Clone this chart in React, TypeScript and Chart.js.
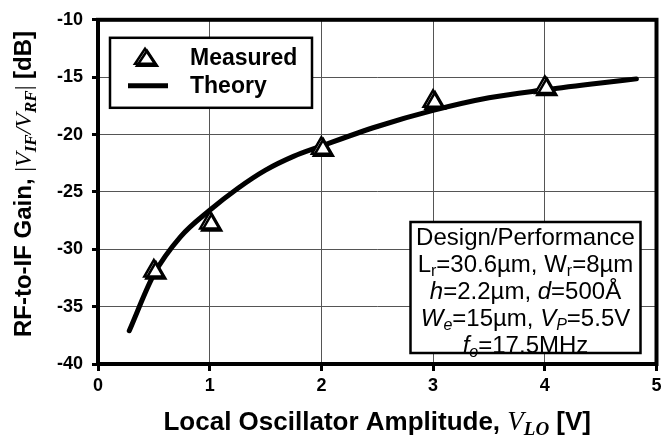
import React, { useEffect, useRef } from "react";
import { Chart, registerables } from "chart.js";

Chart.register(...registerables);

// Measured conversion gain vs. LO amplitude
const measuredVlo = [0.5, 1, 2, 3, 4];
const measuredGain = [-31.9, -27.7, -21.2, -17.1, -15.9];

// Theoretical curve
const theoryVlo = [0.28, 0.5, 0.74, 1, 1.25, 1.5, 1.75, 2, 2.5, 3, 3.5, 4, 4.5, 4.82];
const theoryGain = [-37.1, -32.2, -28.9, -26.6, -24.7, -23.1, -21.9, -21.0, -19.3, -17.9, -16.8, -16.1, -15.5, -15.15];

const xTickValues = [0, 1, 2, 3, 4, 5];
const yTickValues = [-40, -35, -30, -25, -20, -15, -10];

const SANS = '"Liberation Sans", Arial, Helvetica, sans-serif';
const SERIF = '"Liberation Serif", "Times New Roman", serif';

type Run = { text: string; font: string; dy?: number };

function runsWidth(ctx: CanvasRenderingContext2D, runs: Run[]) {
  let w = 0;
  for (const r of runs) {
    ctx.font = r.font;
    w += ctx.measureText(r.text).width;
  }
  return w;
}

// Draws a line of mixed-font text centred on x, baseline at y
function drawRuns(ctx: CanvasRenderingContext2D, runs: Run[], x: number, y: number) {
  const total = runsWidth(ctx, runs);
  let cx = x - total / 2;
  ctx.textAlign = "left";
  ctx.textBaseline = "alphabetic";
  for (const r of runs) {
    ctx.font = r.font;
    ctx.fillText(r.text, cx, y + (r.dy || 0));
    cx += ctx.measureText(r.text).width;
  }
}

function drawTriangle(ctx: CanvasRenderingContext2D, x: number, y: number, r: number) {
  const h = r * 1.5;
  const half = r * Math.sqrt(3) / 2;
  ctx.save();
  ctx.shadowColor = "#000";
  ctx.shadowOffsetX = 2;
  ctx.shadowOffsetY = 2;
  ctx.shadowBlur = 0;
  ctx.beginPath();
  ctx.moveTo(x, y - r);
  ctx.lineTo(x + half * 1.15, y + h - r);
  ctx.lineTo(x - half * 1.15, y + h - r);
  ctx.closePath();
  ctx.fillStyle = "#fff";
  ctx.fill();
  ctx.lineWidth = 2.5;
  ctx.strokeStyle = "#000";
  ctx.stroke();
  ctx.restore();
}

const framePlugin = {
  id: "frameAndNotes",
  beforeDatasetsDraw(chart: any) {
    const { ctx, chartArea: a } = chart;
    ctx.save();
    ctx.lineWidth = 4;
    ctx.strokeStyle = "#000";
    ctx.strokeRect(a.left, a.top, a.right - a.left, a.bottom - a.top);
    ctx.restore();
  },
  beforeDatasetDraw(chart: any, args: any) {
    if (args.index === 0) {
      const ctx = chart.ctx;
      ctx.save();
      ctx.shadowColor = "#000";
      ctx.shadowOffsetX = 2;
      ctx.shadowOffsetY = 2;
      ctx.shadowBlur = 0;
    }
  },
  afterDatasetDraw(chart: any, args: any) {
    if (args.index === 0) chart.ctx.restore();
  },
  afterDraw(chart: any) {
    const { ctx, chartArea: a } = chart;
    ctx.save();
    ctx.fillStyle = "#000";

    // Legend box
    const lx = a.left + 12, ly = a.top + 18, lw = 202, lh = 70;
    ctx.fillStyle = "#fff";
    ctx.fillRect(lx, ly, lw, lh);
    ctx.lineWidth = 2.5;
    ctx.strokeStyle = "#000";
    ctx.strokeRect(lx, ly, lw, lh);
    drawTriangle(ctx, lx + 35, ly + 21, 10);
    ctx.beginPath();
    ctx.lineWidth = 5;
    ctx.moveTo(lx + 18, ly + 48);
    ctx.lineTo(lx + 58, ly + 48);
    ctx.stroke();
    ctx.fillStyle = "#000";
    ctx.font = `bold 23px ${SANS}`;
    ctx.textAlign = "left";
    ctx.textBaseline = "middle";
    ctx.fillText(chart.data.datasets[0].label, lx + 80, ly + 21);
    ctx.fillText(chart.data.datasets[1].label, lx + 80, ly + 49);

    // Design/Performance box
    const bw = 230, bh = 131;
    const bx = a.right - 16 - bw, by = a.bottom - 11 - bh;
    ctx.fillStyle = "#fff";
    ctx.fillRect(bx, by, bw, bh);
    ctx.lineWidth = 2.5;
    ctx.strokeRect(bx, by, bw, bh);
    ctx.fillStyle = "#000";
    const fs = 24, ss = 16;
    const R = `${fs}px ${SANS}`;
    const I = `italic ${fs}px ${SANS}`;
    const RS = `${ss}px ${SANS}`;
    const IS = `italic ${ss}px ${SANS}`;
    const cx = bx + bw / 2;
    const lines: Run[][] = [
      [{ text: "Design/Performance", font: R }],
      [
        { text: "L", font: R }, { text: "r", font: RS, dy: 4 },
        { text: "=30.6\u00b5m, W", font: R }, { text: "r", font: RS, dy: 4 },
        { text: "=8\u00b5m", font: R },
      ],
      [
        { text: "h", font: I }, { text: "=2.2\u00b5m, ", font: R },
        { text: "d", font: I }, { text: "=500\u00c5", font: R },
      ],
      [
        { text: "W", font: I }, { text: "e", font: IS, dy: 4 },
        { text: "=15\u00b5m, ", font: R },
        { text: "V", font: I }, { text: "P", font: IS, dy: 4 },
        { text: "=5.5V", font: R },
      ],
      [
        { text: "f", font: I }, { text: "o", font: IS, dy: 4 },
        { text: "=17.5MHz", font: R },
      ],
    ];
    lines.forEach((ln, i) => drawRuns(ctx, ln, cx, by + 23 + i * 27));

    // Axis titles
    const xTitle: Run[] = [
      { text: "Local Oscillator Amplitude, ", font: `bold 26px ${SANS}` },
      { text: "V", font: `italic 27px ${SERIF}` },
      { text: "LO", font: `italic bold 19px ${SERIF}`, dy: 5 },
      { text: " [V]", font: `bold 26px ${SANS}` },
    ];
    drawRuns(ctx, xTitle, (a.left + a.right) / 2, 430);

    const yTitle: Run[] = [
      { text: "RF-to-IF Gain, ", font: `bold 24px ${SANS}` },
      { text: "|", font: `24px ${SERIF}` },
      { text: "V", font: `italic 24px ${SERIF}` },
      { text: "IF", font: `italic bold 17px ${SERIF}`, dy: 5 },
      { text: "/", font: `italic 24px ${SERIF}` },
      { text: "V", font: `italic 24px ${SERIF}` },
      { text: "RF", font: `italic bold 17px ${SERIF}`, dy: 5 },
      { text: "|", font: `24px ${SERIF}` },
      { text: " [dB]", font: `bold 24px ${SANS}` },
    ];
    ctx.save();
    ctx.translate(31, 184);
    ctx.rotate(-Math.PI / 2);
    drawRuns(ctx, yTitle, 0, 0);
    ctx.restore();

    ctx.restore();
  },
};

export default function App() {
  const canvasRef = useRef<HTMLCanvasElement | null>(null);

  useEffect(() => {
    const canvas = canvasRef.current;
    if (!canvas) return;
    const chart = new Chart(canvas, {
      type: "scatter",
      data: {
        datasets: [
          {
            label: "Measured",
            data: measuredVlo.map((x, i) => ({ x, y: measuredGain[i] })),
            pointStyle: "triangle",
            pointRadius: 11,
            pointHoverRadius: 11,
            pointBackgroundColor: "#fff",
            pointBorderColor: "#000",
            pointBorderWidth: 2.5,
            showLine: false,
            order: 0,
          },
          {
            label: "Theory",
            data: theoryVlo.map((x, i) => ({ x, y: theoryGain[i] })),
            showLine: true,
            borderColor: "#000",
            borderWidth: 5,
            pointRadius: 0,
            cubicInterpolationMode: "monotone",
            borderCapStyle: "round",
            order: 1,
          },
        ],
      },
      options: {
        responsive: false,
        animation: false,
        events: [],
        layout: { padding: { left: 0, top: 19, right: 7, bottom: 0 } },
        plugins: {
          legend: { display: false },
          tooltip: { enabled: false },
        },
        scales: {
          x: {
            type: "linear",
            min: 0,
            max: 5,
            afterBuildTicks: (s: any) => {
              s.ticks = xTickValues.map((v) => ({ value: v }));
            },
            afterFit: (s: any) => {
              s.height = 75;
            },
            grid: {
              color: "#555",
              lineWidth: 1,
              drawTicks: true,
              tickLength: 7,
              tickWidth: 3,
              tickColor: "#000",
            },
            border: { display: false },
            ticks: {
              color: "#000",
              padding: 4,
              font: { family: SANS, size: 18, weight: "bold" },
            },
          },
          y: {
            type: "linear",
            min: -40,
            max: -10,
            afterBuildTicks: (s: any) => {
              s.ticks = yTickValues.map((v) => ({ value: v }));
            },
            afterFit: (s: any) => {
              s.width = 98;
            },
            grid: {
              color: "#555",
              lineWidth: 1,
              drawTicks: true,
              tickLength: 6,
              tickWidth: 3,
              tickColor: "#000",
            },
            border: { display: false },
            ticks: {
              color: "#000",
              padding: 9,
              font: { family: SANS, size: 18, weight: "bold" },
            },
          },
        },
      },
      plugins: [framePlugin],
    } as any);
    return () => chart.destroy();
  }, []);

  return (
    <div style={{ position: "absolute", left: 0, top: 0, width: 670, height: 439, background: "#fff" }}>
      <canvas ref={canvasRef} width={670} height={439} style={{ width: 670, height: 439, display: "block" }} />
    </div>
  );
}
